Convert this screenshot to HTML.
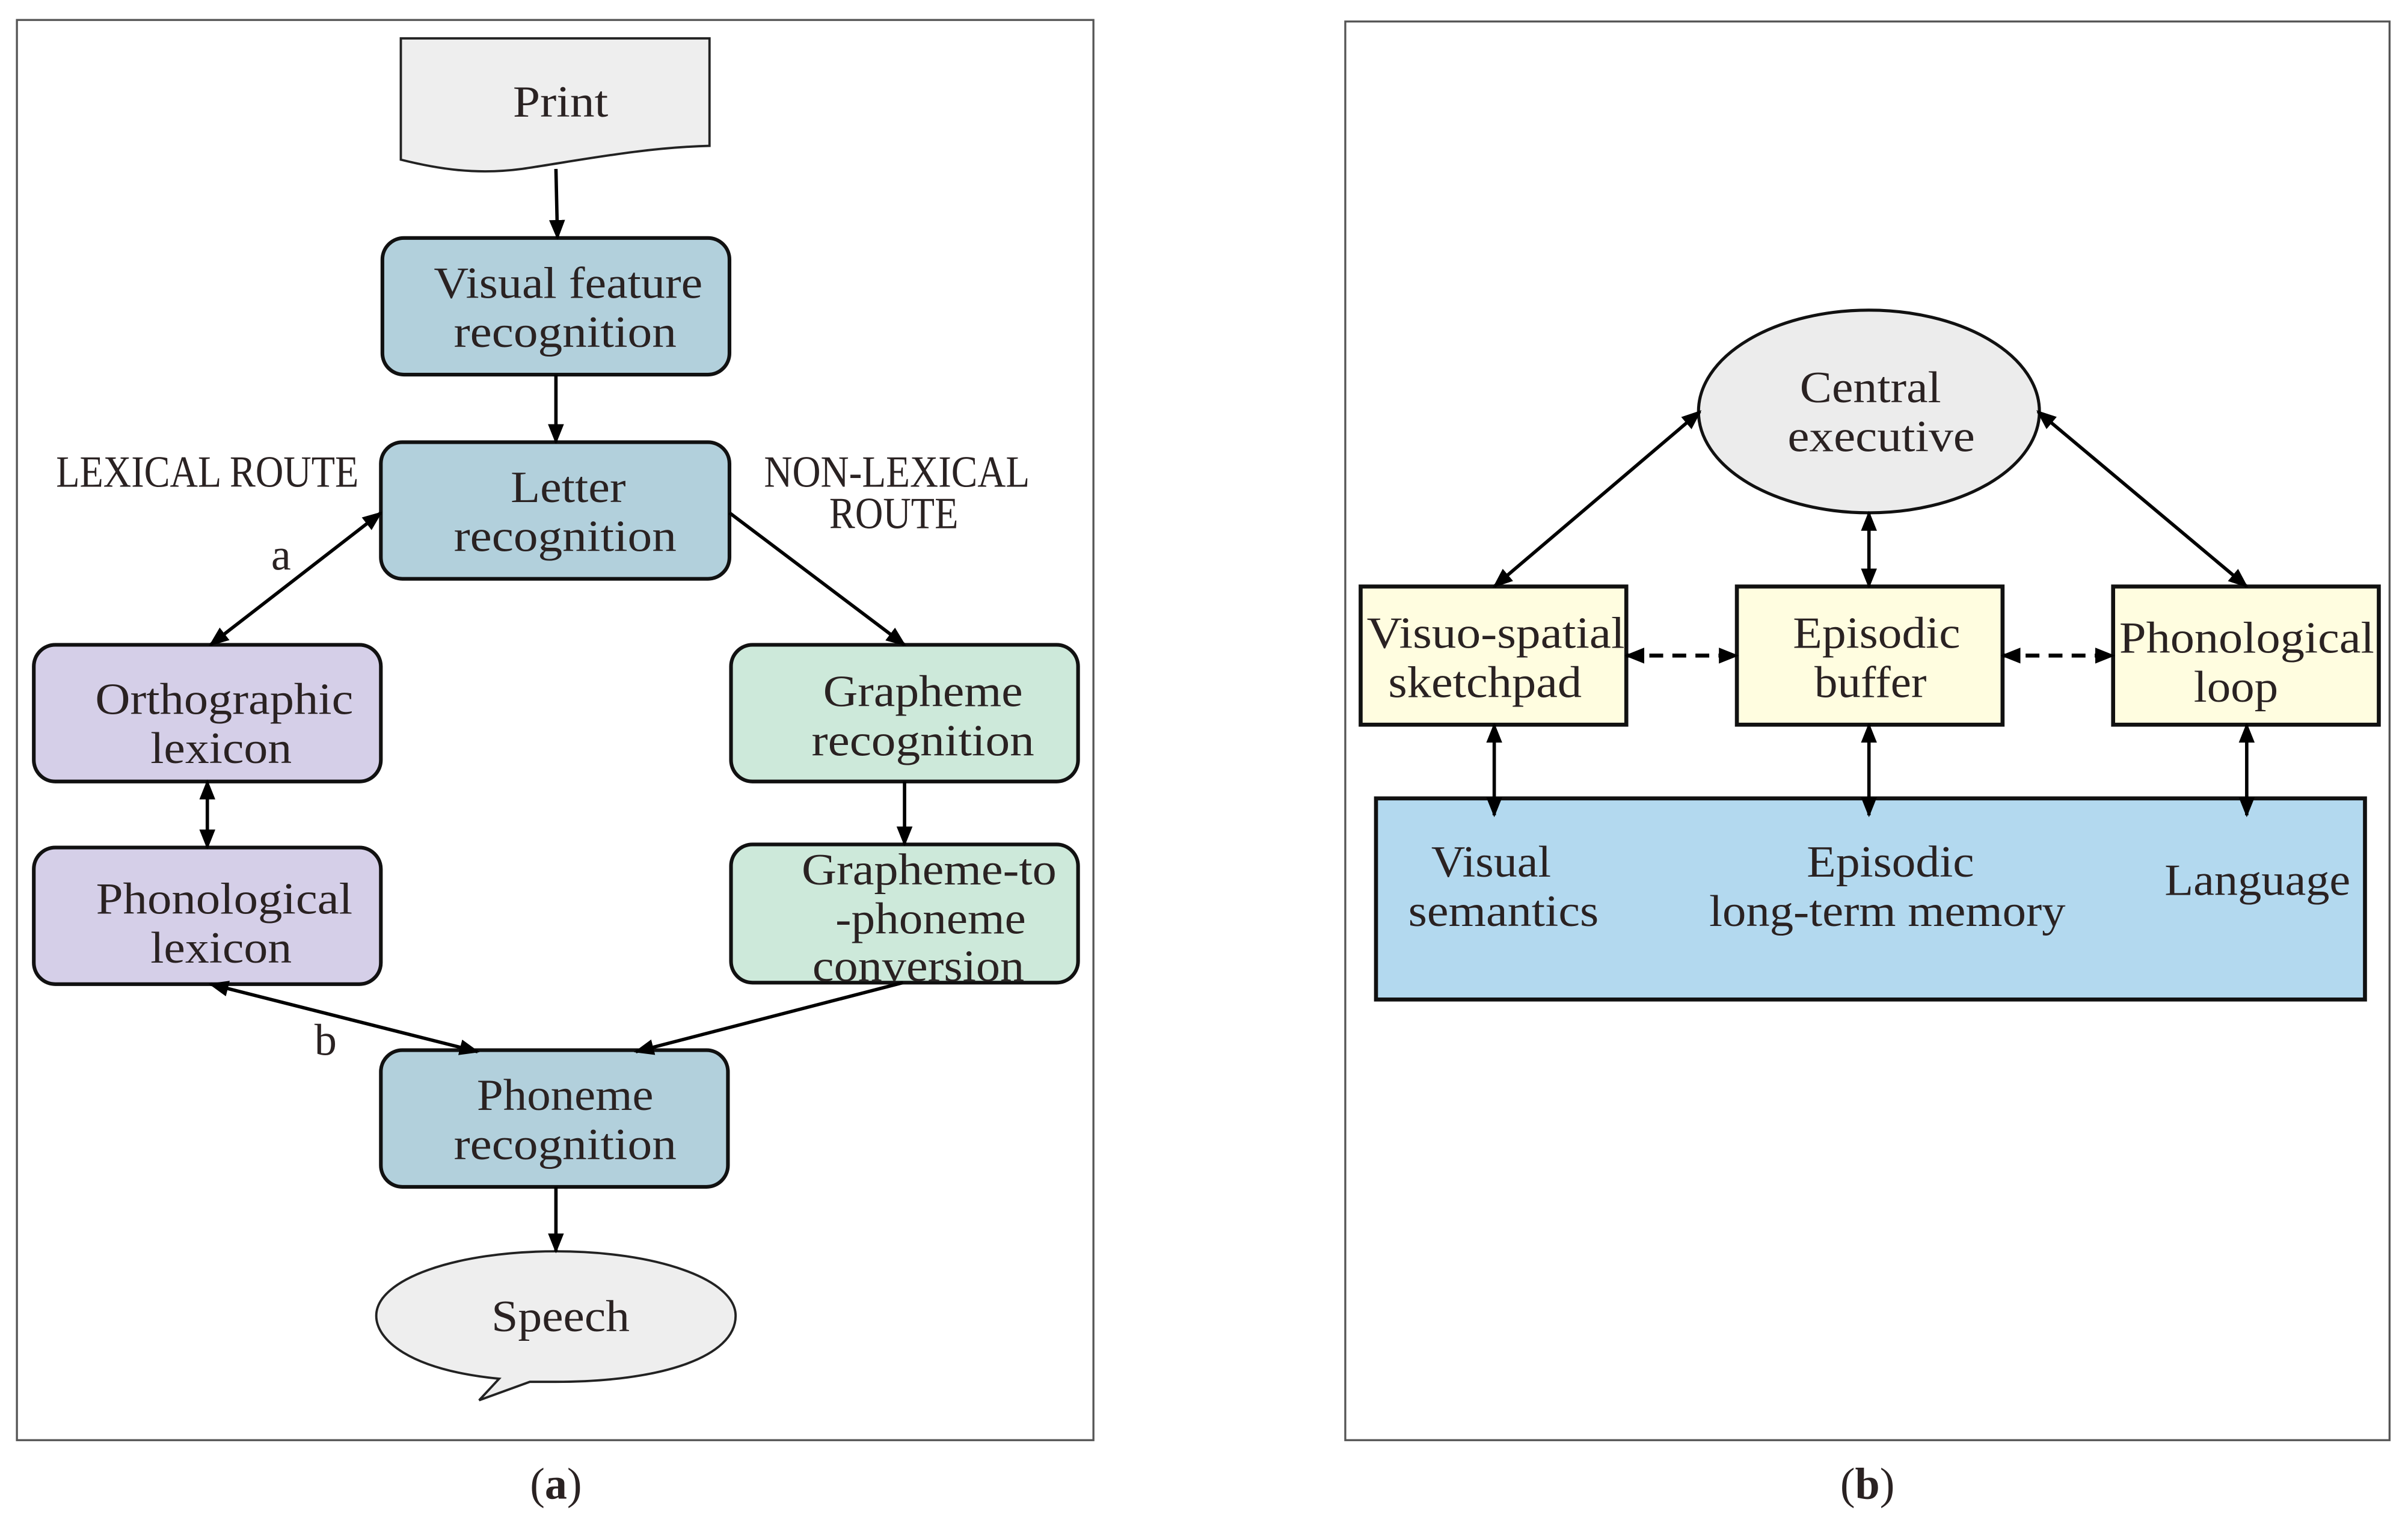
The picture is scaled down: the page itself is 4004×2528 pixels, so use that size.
<!DOCTYPE html>
<html><head><meta charset="utf-8"><style>
html,body{margin:0;padding:0;background:#fff;}
svg{display:block;}
text{font-family:"Liberation Serif",serif;fill:#2a2222;font-size:29px;text-anchor:middle;}
</style></head><body>
<svg width="4004" height="2528" viewBox="0 0 1568 990" xmlns="http://www.w3.org/2000/svg">
<defs>
<marker id="a2" viewBox="0 0 10 10" refX="9" refY="5" markerWidth="13" markerHeight="13" orient="auto-start-reverse" markerUnits="userSpaceOnUse"><path d="M0,1 L10,5 L0,9 z" fill="#000"/></marker>
</defs>
<rect x="11" y="13" width="701" height="925" fill="#fff" stroke="#555" stroke-width="1.3"/>
<rect x="876" y="14" width="680" height="924" fill="#fff" stroke="#555" stroke-width="1.3"/>

<path d="M261,25 H462 V95 C420,96 380,104 340,110 C310,114 285,110 261,104 Z" fill="#eeeeee" stroke="#222" stroke-width="1.5"/>
<text x="365" y="76" textLength="62" lengthAdjust="spacingAndGlyphs">Print</text>

<g stroke="#111" stroke-width="2.4">
<rect x="249" y="155" width="226" height="89" rx="14" fill="#b2d0dc"/>
<rect x="248" y="288" width="227" height="89" rx="14" fill="#b2d0dc"/>
<rect x="22" y="420" width="226" height="89" rx="14" fill="#d5cfe8"/>
<rect x="22" y="552" width="226" height="89" rx="14" fill="#d5cfe8"/>
<rect x="476" y="420" width="226" height="89" rx="14" fill="#cde9da"/>
<rect x="476" y="550" width="226" height="90" rx="14" fill="#cde9da"/>
<rect x="248" y="684" width="226" height="89" rx="14" fill="#b2d0dc"/>
</g>
<path d="M325,898 C265,892 245,872 245,857 C245,833 297,815 362,815 C427,815 479,833 479,857 C479,884 430,900 362,900 C355,900 350,900 345,900 L312,912 Z" fill="#eeeeee" stroke="#222" stroke-width="1.5"/>

<text x="370" y="194" textLength="175" lengthAdjust="spacingAndGlyphs">Visual feature</text>
<text x="368" y="226" textLength="145" lengthAdjust="spacingAndGlyphs">recognition</text>
<text x="370" y="327" textLength="75" lengthAdjust="spacingAndGlyphs">Letter</text>
<text x="368" y="359" textLength="145" lengthAdjust="spacingAndGlyphs">recognition</text>
<text x="146" y="465" textLength="168" lengthAdjust="spacingAndGlyphs">Orthographic</text>
<text x="144" y="497" textLength="92" lengthAdjust="spacingAndGlyphs">lexicon</text>
<text x="146" y="595" textLength="167" lengthAdjust="spacingAndGlyphs">Phonological</text>
<text x="144" y="627" textLength="92" lengthAdjust="spacingAndGlyphs">lexicon</text>
<text x="601" y="460" textLength="130" lengthAdjust="spacingAndGlyphs">Grapheme</text>
<text x="601" y="492" textLength="145" lengthAdjust="spacingAndGlyphs">recognition</text>
<text x="605" y="576" textLength="166" lengthAdjust="spacingAndGlyphs">Grapheme-to</text>
<text x="606" y="608" textLength="124" lengthAdjust="spacingAndGlyphs">-phoneme</text>
<text x="598" y="639" textLength="138" lengthAdjust="spacingAndGlyphs">conversion</text>
<text x="368" y="723" textLength="115" lengthAdjust="spacingAndGlyphs">Phoneme</text>
<text x="368" y="755" textLength="145" lengthAdjust="spacingAndGlyphs">recognition</text>
<text x="365" y="867" textLength="90" lengthAdjust="spacingAndGlyphs">Speech</text>

<text x="135" y="317" font-size="24" textLength="197" lengthAdjust="spacingAndGlyphs">LEXICAL ROUTE</text>
<text x="584" y="317" font-size="24" textLength="173" lengthAdjust="spacingAndGlyphs">NON-LEXICAL</text>
<text x="582" y="344" font-size="24" textLength="84" lengthAdjust="spacingAndGlyphs">ROUTE</text>
<text x="183" y="371" font-size="26">a</text>
<text x="212" y="687" font-size="26">b</text>

<g stroke="#000" stroke-width="2.2" fill="none">
<line x1="362" y1="110" x2="363" y2="155" marker-end="url(#a2)"/>
<line x1="362" y1="244" x2="362" y2="288" marker-end="url(#a2)"/>
<line x1="248" y1="334" x2="137" y2="420" marker-start="url(#a2)" marker-end="url(#a2)"/>
<line x1="475" y1="334" x2="589" y2="420" marker-end="url(#a2)"/>
<line x1="135" y1="509" x2="135" y2="552" marker-start="url(#a2)" marker-end="url(#a2)"/>
<line x1="589" y1="509" x2="589" y2="550" marker-end="url(#a2)"/>
<line x1="137" y1="641" x2="311" y2="685" marker-start="url(#a2)" marker-end="url(#a2)"/>
<line x1="588" y1="640" x2="414" y2="685" marker-end="url(#a2)"/>
<line x1="362" y1="773" x2="362" y2="815" marker-end="url(#a2)"/>
</g>

<ellipse cx="1217" cy="268" rx="111" ry="66" fill="#ececec" stroke="#111" stroke-width="2"/>
<text x="1218" y="262" textLength="92" lengthAdjust="spacingAndGlyphs">Central</text>
<text x="1225" y="294" textLength="122" lengthAdjust="spacingAndGlyphs">executive</text>
<g stroke="#111" stroke-width="2.6" fill="#fffde0">
<rect x="886" y="382" width="173" height="90"/>
<rect x="1131" y="382" width="173" height="90"/>
<rect x="1376" y="382" width="173" height="90"/>
<rect x="896" y="520" width="644" height="131" fill="#b3d9ef"/>
</g>
<text x="974" y="422" textLength="168" lengthAdjust="spacingAndGlyphs">Visuo-spatial</text>
<text x="967" y="454" textLength="126" lengthAdjust="spacingAndGlyphs">sketchpad</text>
<text x="1222" y="422" textLength="109" lengthAdjust="spacingAndGlyphs">Episodic</text>
<text x="1218" y="454" textLength="73" lengthAdjust="spacingAndGlyphs">buffer</text>
<text x="1463" y="425" textLength="166" lengthAdjust="spacingAndGlyphs">Phonological</text>
<text x="1456" y="457" textLength="55" lengthAdjust="spacingAndGlyphs">loop</text>
<text x="971" y="571" textLength="78" lengthAdjust="spacingAndGlyphs">Visual</text>
<text x="979" y="603" textLength="124" lengthAdjust="spacingAndGlyphs">semantics</text>
<text x="1231" y="571" textLength="109" lengthAdjust="spacingAndGlyphs">Episodic</text>
<text x="1229" y="603" textLength="232" lengthAdjust="spacingAndGlyphs">long-term memory</text>
<text x="1470" y="583" textLength="121" lengthAdjust="spacingAndGlyphs">Language</text>

<g stroke="#000" stroke-width="2.2" fill="none">
<line x1="1107" y1="268" x2="973" y2="382" marker-start="url(#a2)" marker-end="url(#a2)"/>
<line x1="1217" y1="334" x2="1217" y2="382" marker-start="url(#a2)" marker-end="url(#a2)"/>
<line x1="1327" y1="268" x2="1463" y2="382" marker-start="url(#a2)" marker-end="url(#a2)"/>
<line x1="1059" y1="427" x2="1131" y2="427" stroke-dasharray="9,6" stroke-width="2.6" marker-start="url(#a2)" marker-end="url(#a2)"/>
<line x1="1304" y1="427" x2="1376" y2="427" stroke-dasharray="9,6" stroke-width="2.6" marker-start="url(#a2)" marker-end="url(#a2)"/>
<line x1="973" y1="472" x2="973" y2="531" marker-start="url(#a2)" marker-end="url(#a2)"/>
<line x1="1217" y1="472" x2="1217" y2="531" marker-start="url(#a2)" marker-end="url(#a2)"/>
<line x1="1463" y1="472" x2="1463" y2="531" marker-start="url(#a2)" marker-end="url(#a2)"/>
</g>

<text x="362" y="976" font-size="30" fill="#000">(<tspan font-weight="bold">a</tspan>)</text>
<text x="1216" y="976" font-size="30" fill="#000">(<tspan font-weight="bold">b</tspan>)</text>
</svg>
</body></html>
